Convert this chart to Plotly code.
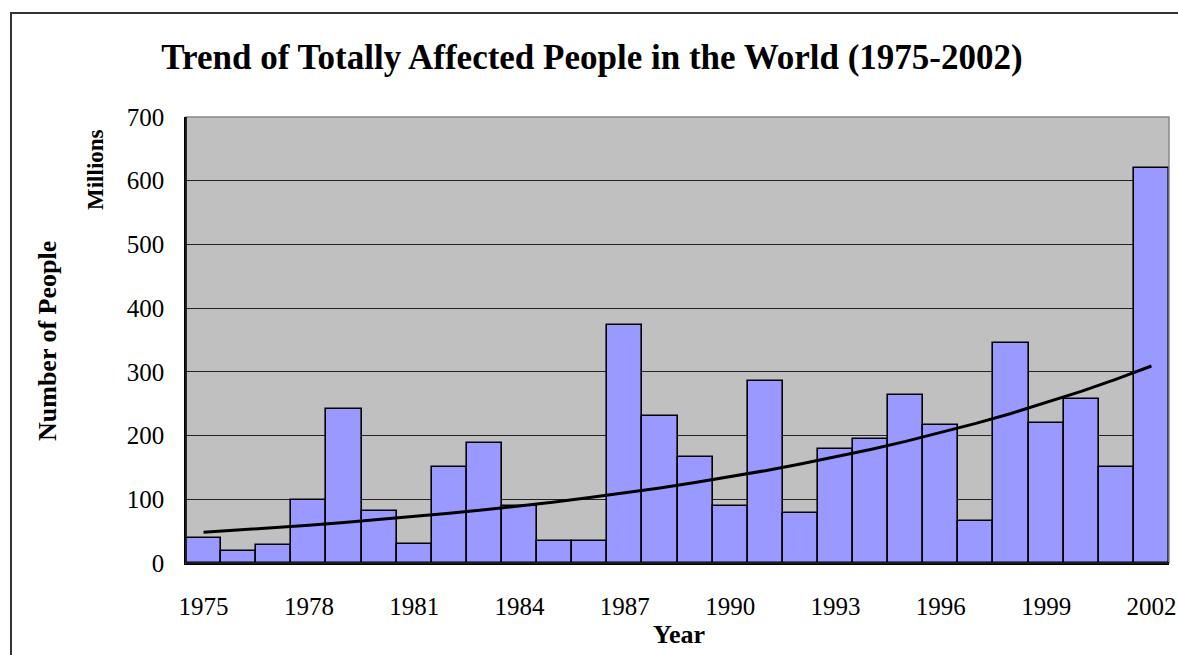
import numpy as np
import plotly.graph_objects as go

# ---- data (millions of people affected) ----
years = list(range(1975, 2003))
affected = [40, 19, 28, 99, 242, 81, 30, 150, 189, 89, 35, 35, 373, 230, 166, 89,
            286, 79, 179, 194, 263, 217, 66, 345, 219, 258, 150, 620]
x_ticks = [1975, 1978, 1981, 1984, 1987, 1990, 1993, 1996, 1999, 2002]
y_ticks = [0, 100, 200, 300, 400, 500, 600, 700]

# exponential trendline (least squares on log values, like a spreadsheet trendline)
t = np.array(years) - years[0]
b, a = np.polyfit(t, np.log(np.array(affected, dtype=float)), 1)
trend = np.exp(a + b * t)

W, H = 1178, 655
PL, PR, PT, PB = 186, 1169, 117, 563
def px(x):
    return (x - PL) / (PR - PL)
def py(y):
    return (PB - y) / (PB - PT)

SERIF = "Liberation Serif, Times New Roman, serif"

fig = go.Figure()
fig.add_trace(go.Bar(
    x=years, y=affected, width=1,
    marker=dict(color="#9999FF", line=dict(color="black", width=1.6)),
    showlegend=False, hoverinfo="x+y",
))
fig.add_trace(go.Scatter(
    x=years, y=trend, mode="lines",
    line=dict(color="black", width=3),
    showlegend=False, hoverinfo="skip",
))

fig.update_layout(
    width=W, height=H,
    margin=dict(l=PL, r=W - PR, t=PT, b=H - PB, autoexpand=False),
    paper_bgcolor="white",
    plot_bgcolor="#C0C0C0",
    bargap=0,
    font=dict(family=SERIF, color="black", size=25),
    title=dict(
        text="<b>Trend of Totally Affected People in the World (1975-2002)</b>",
        x=592 / W, xanchor="center", y=1 - 57 / H, yanchor="middle",
        font=dict(family=SERIF, size=35, color="black"),
    ),
    xaxis=dict(
        range=[1974.5, 2002.5], tickmode="array", tickvals=x_ticks,
        ticktext=[str(v) for v in x_ticks], automargin=False,
        showgrid=False, zeroline=False, showline=True, linecolor="black", linewidth=1.5,
        ticks="", ticklabelstandoff=20,
        tickfont=dict(family=SERIF, size=25),
    ),
    yaxis=dict(
        range=[0, 700], tickmode="array", tickvals=y_ticks, automargin=False,
        showgrid=True, gridcolor="#222222", gridwidth=1,
        zeroline=False, showline=True, linecolor="black", linewidth=1.5,
        ticks="", ticklabelstandoff=15,
        tickfont=dict(family=SERIF, size=25),
    ),
    shapes=[
        # plot area frame (top/right grey)
        dict(type="rect", xref="paper", yref="paper", x0=0, x1=1, y0=0, y1=1,
             line=dict(color="#888888", width=1.5), layer="above"),
        # outer chart border
        dict(type="rect", xref="paper", yref="paper",
             x0=px(11), x1=px(1200), y0=py(680), y1=py(13),
             line=dict(color="#333333", width=2)),
    ],
    annotations=[
        dict(text="<b>Year</b>", xref="paper", yref="paper", x=px(679), y=py(634),
             xanchor="center", yanchor="middle", showarrow=False,
             font=dict(family=SERIF, size=26)),
        dict(text="<b>Number of People</b>", xref="paper", yref="paper", x=px(47), y=py(341),
             xanchor="center", yanchor="middle", showarrow=False, textangle=-90,
             font=dict(family=SERIF, size=26)),
        dict(text="<b>Millions</b>", xref="paper", yref="paper", x=px(95), y=py(170),
             xanchor="center", yanchor="middle", showarrow=False, textangle=-90,
             font=dict(family=SERIF, size=23)),
    ],
)
# draw left/bottom axis lines above the grey frame
fig.add_shape(type="line", xref="paper", yref="paper", x0=0, x1=0, y0=0, y1=1,
              line=dict(color="black", width=1.5), layer="above")
fig.add_shape(type="line", xref="paper", yref="paper", x0=0, x1=1, y0=0, y1=0,
              line=dict(color="black", width=1.5), layer="above")

fig.write_html("out.html", config={"displayModeBar": False},
               post_script="document.body.style.margin='0';document.body.style.overflow='hidden';")
